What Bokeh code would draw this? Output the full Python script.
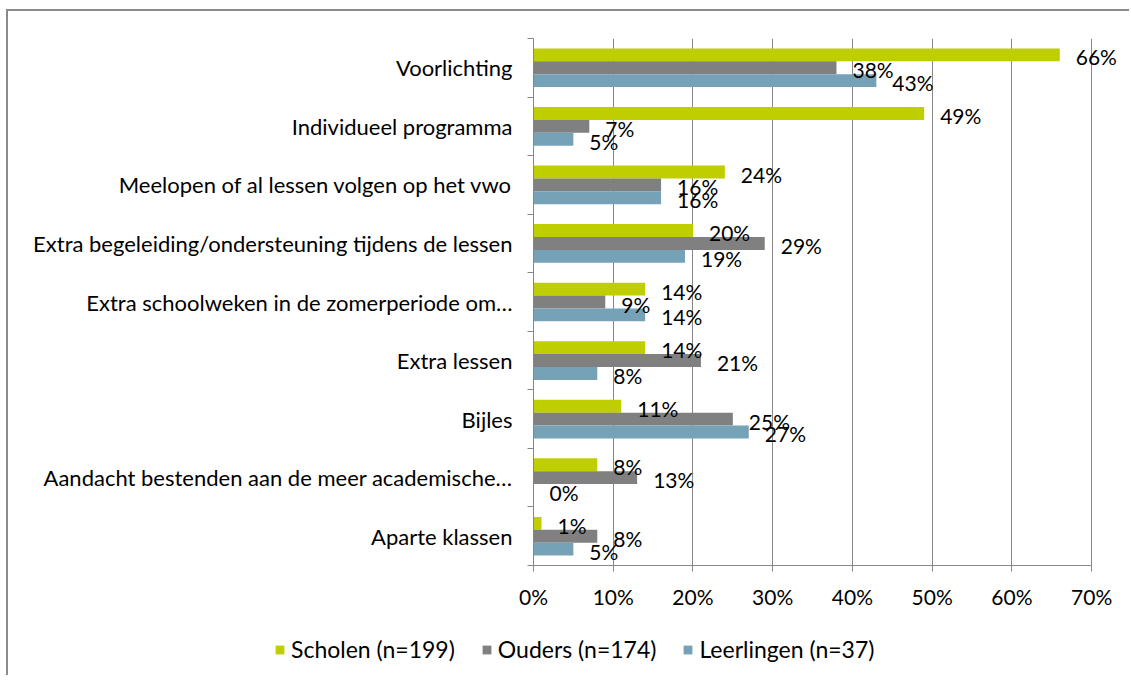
from bokeh.plotting import figure
from bokeh.models import (Range1d, LinearAxis, FixedTicker,
                          ColumnDataSource, Legend, LegendItem, NumeralTickFormatter, LabelSet)
from bokeh.transform import dodge
from bokeh.core.properties import value
from bokeh.embed import file_html
from bokeh.resources import INLINE

categories = [
    "Voorlichting",
    "Individueel programma",
    "Meelopen of al lessen volgen op het vwo",
    "Extra begeleiding/ondersteuning tijdens de lessen",
    "Extra schoolweken in de zomerperiode om…",
    "Extra lessen",
    "Bijles",
    "Aandacht bestenden aan de meer academische…",
    "Aparte klassen",
]
scholen = [66, 49, 24, 20, 14, 14, 11, 8, 1]
ouders = [38, 7, 16, 29, 9, 21, 25, 13, 8]
leerlingen = [43, 5, 16, 19, 14, 8, 27, 0, 5]
series_names = ["Scholen (n=199)", "Ouders (n=174)", "Leerlingen (n=37)"]
series_colors = ["#BFCE00", "#808080", "#76A2B7"]
x_ticks = [0, 10, 20, 30, 40, 50, 60, 70]

FONT = "Lato"
GRID = "#878787"
BORDER = "2px solid #8a8a8a"
n = len(categories)
centers = [n - 0.5 - i for i in range(n)]   # first category at the top

src = ColumnDataSource(dict(
    pos=centers, s0=scholen, s1=ouders, s2=leerlingen,
    l0=[f"{v}%" for v in scholen], l1=[f"{v}%" for v in ouders], l2=[f"{v}%" for v in leerlingen],
))

p = figure(width=1123, height=614, output_backend="svg", toolbar_location=None,
           y_range=Range1d(0, n), x_range=Range1d(0, 75),
           y_axis_location=None, x_axis_location=None,
           min_border_left=525, min_border_right=0, min_border_top=27, min_border_bottom=60)
p.styles = {"margin-left": "6px", "margin-top": "9px", "border-top": BORDER, "border-left": BORDER}
p.outline_line_color = None
p.ygrid.visible = False
p.xgrid.ticker = FixedTicker(ticks=x_ticks)
p.xgrid.grid_line_color = GRID
p.xgrid.grid_line_width = 1

offsets = [0.22, 0.0, -0.22]
for i, (col, off) in enumerate(zip(series_colors, offsets)):
    p.hbar(y=dodge("pos", off), right=f"s{i}", left=0, height=0.22,
           source=src, fill_color=col, line_color=None)
    p.add_layout(LabelSet(x=f"s{i}", y=dodge("pos", off), text=f"l{i}", source=src,
                          x_offset=16, y_offset=-2, text_align="left", text_baseline="middle",
                          text_font=value(FONT), text_font_size="21px", text_color="#000000"))

# x axis
xa = LinearAxis(ticker=FixedTicker(ticks=x_ticks), bounds=(0, 70))
xa.formatter = NumeralTickFormatter(format="0")
xa.major_label_overrides = {t: f"{t}%" for t in x_ticks}
xa.axis_line_color = GRID
xa.major_tick_line_color = GRID
xa.major_tick_in = 0
xa.major_tick_out = 6
xa.minor_tick_line_color = None
xa.major_label_standoff = 12
xa.major_label_text_font = FONT
xa.major_label_text_font_size = "21px"
xa.major_label_text_color = "#000000"
p.add_layout(xa, "below")

# category axis: labels at centres, tick marks at category boundaries
ya = LinearAxis(ticker=FixedTicker(ticks=centers, minor_ticks=list(range(n + 1))))
ya.major_label_overrides = {c: cat for c, cat in zip(centers, categories)}
ya.axis_line_color = GRID
ya.major_tick_line_color = None
ya.minor_tick_line_color = GRID
ya.minor_tick_in = 0
ya.minor_tick_out = 6
ya.major_label_standoff = 15
ya.major_label_text_font = FONT
ya.major_label_text_font_size = "22px"
ya.major_label_text_color = "#000000"
p.add_layout(ya, "left")

# legend strip below the chart (its swatches come from hidden copies of the bar glyphs)
pl = figure(width=1123, height=52, output_backend="svg", toolbar_location=None,
            x_range=Range1d(0, 75), y_range=Range1d(0, n),
            x_axis_location=None, y_axis_location=None,
            min_border_left=0, min_border_right=0, min_border_top=0, min_border_bottom=0)
pl.styles = {"margin-left": "6px", "border-left": BORDER}
pl.outline_line_color = None
pl.grid.visible = False
swatches = []
for i, col in enumerate(series_colors):
    r = pl.hbar(y="pos", right=f"s{i}", left=0, height=0.22,
                source=src, fill_color=col, line_color=None)
    r.visible = False
    swatches.append(r)
legend = Legend(items=[LegendItem(label=nm, renderers=[r]) for nm, r in zip(series_names, swatches)],
                orientation="horizontal", location=(266, 12), padding=0, margin=0,
                border_line_color=None, background_fill_alpha=0, click_policy="none",
                glyph_width=11, glyph_height=11, label_standoff=6, spacing=26,
                label_text_font=FONT, label_text_font_size="23px", label_text_color="#000000")
pl.add_layout(legend, "center")

open("out.html", "w").write(file_html([p, pl], INLINE))
